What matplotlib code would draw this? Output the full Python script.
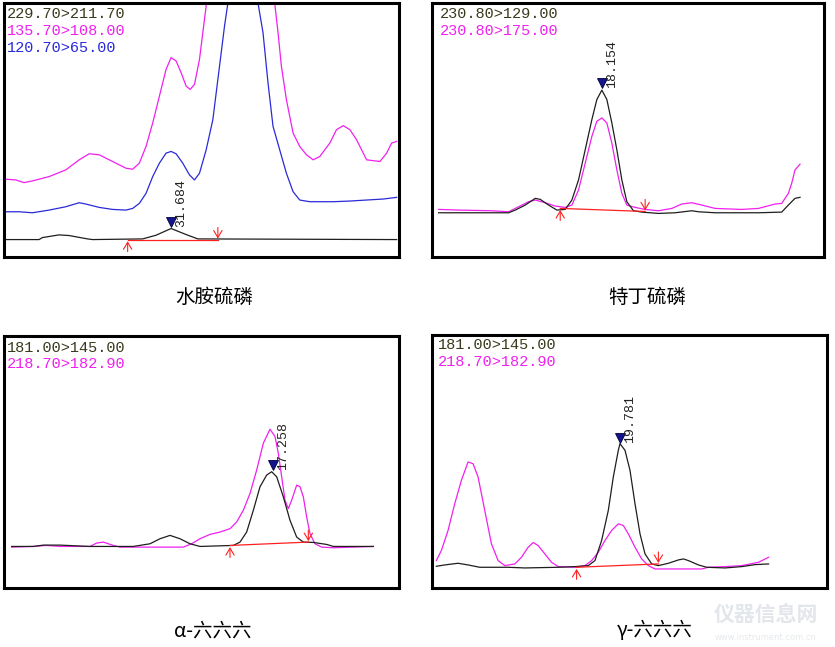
import numpy as np
import matplotlib
matplotlib.use("Agg")
import matplotlib.pyplot as plt

# ---------------- data (retention time in arbitrary scan units, abundance in arbitrary units) -------------
# Panel 1: 水胺硫磷
p1_black_t = [22, 120, 130, 180, 210, 265, 280, 430, 470, 515, 560, 595, 1190]
p1_black_a = [52, 52, 58, 66, 64, 54, 52, 54, 65, 85, 67, 54, 52]
p1_mag_t = [22, 50, 75, 100, 150, 200, 240, 270, 300, 330, 360, 380, 400, 420, 440, 460, 480, 500, 515, 530,
            545, 560, 572, 585, 600, 610, 620, 640, 680, 720, 760, 800, 825, 835, 845, 860, 880, 900, 920, 940,
            960, 990, 1010, 1030, 1050, 1070, 1090, 1100, 1140, 1160, 1175, 1190]
p1_mag_a = [232, 230, 222, 227, 240, 260, 290, 308, 305, 290, 275, 265, 262, 280, 330, 400, 480, 560, 595, 585,
            550, 510, 500, 515, 590, 670, 750, 900, 1100, 1150, 1100, 950, 758, 670, 570, 470, 370, 330, 305, 290,
            300, 340, 380, 392, 380, 350, 310, 290, 285, 310, 340, 345]
p1_blue_t = [22, 60, 100, 150, 200, 240, 260, 300, 340, 380, 400, 420, 440, 460, 480, 500, 515, 530, 550, 570,
             585, 600, 620, 640, 660, 675, 685, 700, 730, 760, 775, 790, 805, 820, 840, 860, 880, 900, 930, 960,
             1000, 1050, 1100, 1150, 1190]
p1_blue_a = [135, 135, 132, 140, 150, 162, 158, 148, 142, 140, 145, 160, 190, 240, 280, 310, 315, 308, 280, 245,
             230, 250, 320, 410, 570, 690, 758, 950, 1050, 950, 758, 670, 520, 390, 320, 250, 195, 170, 165, 165,
             165, 167, 170, 173, 178]
p1_base_t = [385, 655]
p1_base_a = [52, 52]
p1_peak = (515, 105, "31.684")

# Panel 2: 特丁硫磷
p2_black_t = [40, 100, 250, 270, 300, 330, 345, 370, 395, 420, 440, 460, 480, 500, 515, 530, 545, 560, 575, 590,
              605, 625, 650, 700, 750, 800, 820, 870, 1000, 1070, 1090, 1110, 1125]
p2_black_a = [132, 132, 132, 140, 155, 175, 172, 155, 140, 142, 170, 230, 320, 410, 470, 498, 470, 400, 320, 230,
              165, 138, 134, 130, 132, 138, 135, 132, 132, 134, 155, 175, 178]
p2_mag_t = [40, 100, 200, 250, 280, 310, 330, 360, 390, 420, 440, 460, 480, 500, 515, 530, 545, 560, 575, 590,
            605, 630, 660, 700, 740, 770, 800, 830, 870, 950, 1000, 1050, 1070, 1090, 1100, 1110, 1125]
p2_mag_a = [142, 140, 138, 135, 150, 165, 170, 162, 152, 148, 155, 200, 280, 360, 405, 415, 400, 340, 260, 190,
            155, 148, 142, 138, 145, 158, 162, 155, 145, 142, 145, 158, 160, 190, 220, 260, 277]
p2_base_t = [405, 600, 660]
p2_base_a = [145, 138, 136]
p2_peak = (530, 520, "18.154")

# Panel 3: α-六六六
p3_black_t = [35, 100, 130, 180, 270, 400, 450, 480, 510, 540, 570, 600, 700, 720, 740, 760, 780, 800, 815, 830,
              850, 870, 890, 910, 940, 980, 1000, 1120]
p3_black_a = [124, 124, 128, 128, 124, 124, 132, 147, 157, 147, 132, 124, 127, 137, 167, 232, 302, 337, 347, 332,
              272, 202, 152, 137, 136, 130, 124, 124]
p3_mag_t = [35, 100, 140, 180, 270, 290, 310, 340, 360, 450, 550, 575, 600, 630, 660, 690, 710, 730, 750, 770,
            790, 810, 825, 835, 845, 855, 865, 875, 890, 900, 910, 920, 930, 945, 965, 1000, 1120]
p3_mag_a = [122, 124, 127, 124, 124, 134, 137, 127, 122, 122, 122, 132, 147, 160, 167, 177, 197, 232, 282, 352,
            432, 474, 452, 402, 332, 262, 237, 262, 307, 302, 272, 212, 162, 132, 122, 120, 124]
p3_base_t = [690, 925]
p3_base_a = [127, 137]
p3_peak = (818, 367, "17.258")

# Panel 4: γ-六六六
p4_black_t = [35, 60, 100, 130, 165, 250, 300, 400, 450, 490, 510, 530, 550, 565, 580, 585, 600, 615, 630, 645,
              660, 680, 700, 730, 760, 775, 790, 820, 845, 900, 950, 990, 1030]
p4_black_a = [65, 69, 74, 69, 62, 62, 60, 62, 64, 67, 82, 142, 232, 332, 412, 432, 412, 352, 252, 162,
              102, 72, 67, 74, 84, 87, 82, 69, 62, 60, 64, 70, 72]
p4_mag_t = [35, 50, 70, 90, 110, 130, 145, 160, 180, 200, 220, 240, 270, 290, 310, 325, 340, 360, 380, 400,
            450, 480, 500, 520, 540, 560, 580, 595, 610, 630, 650, 670, 690, 750, 830, 850, 900, 950, 1000, 1030]
p4_mag_a = [82, 112, 172, 252, 322, 377, 372, 332, 232, 132, 82, 67, 72, 92, 122, 136, 127, 102, 77, 64,
            62, 67, 82, 107, 142, 172, 192, 187, 162, 122, 87, 67, 57, 57, 57, 62, 64, 67, 77, 92]
p4_base_t = [455, 700]
p4_base_a = [62, 72]
p4_peak = (585, 450, "19.781")

titles = ["水胺硫磷", "特丁硫磷", "α-六六六", "γ-六六六"]
channel_labels = [
    ["229.70>211.70", "135.70>108.00", "120.70>65.00"],
    ["230.80>129.00", "230.80>175.00"],
    ["181.00>145.00", "218.70>182.90"],
    ["181.00>145.00", "218.70>182.90"],
]

# ---------------- style ----------------
BLACK = "#1e1e1e"
MAG = "#f020f0"
BLUE = "#2a2ad8"
RED = "#ff2020"
LABEL0 = "#3a3a1c"

W, H = 835, 647
fig = plt.figure(figsize=(W / 100, H / 100), dpi=100)
fig.patch.set_facecolor("white")

# panel boxes in pixels: (left, top, right, bottom), and data extents (xmin, xmax, ymax)
boxes = [(4, 3, 399, 257), (432, 3, 824, 257), (4, 336, 399, 588), (432, 335, 827, 588)]
extents = [(15, 1197, 758), (20, 1197, 758), (12, 1197, 752), (22, 1205, 757)]

panels = [
    dict(traces=[(p1_black_t, p1_black_a, BLACK), (p1_blue_t, p1_blue_a, BLUE), (p1_mag_t, p1_mag_a, MAG)],
         base=(p1_base_t, p1_base_a), peak=p1_peak, label_x=25, label_y=[725, 675, 625],
         colors=[LABEL0, MAG, BLUE]),
    dict(traces=[(p2_mag_t, p2_mag_a, MAG), (p2_black_t, p2_black_a, BLACK)],
         base=(p2_base_t, p2_base_a), peak=p2_peak, label_x=45, label_y=[725, 675],
         colors=[LABEL0, MAG]),
    dict(traces=[(p3_mag_t, p3_mag_a, MAG), (p3_black_t, p3_black_a, BLACK)],
         base=(p3_base_t, p3_base_a), peak=p3_peak, label_x=22, label_y=[717, 667],
         colors=[LABEL0, MAG]),
    dict(traces=[(p4_mag_t, p4_mag_a, MAG), (p4_black_t, p4_black_a, BLACK)],
         base=(p4_base_t, p4_base_a), peak=p4_peak, label_x=40, label_y=[727, 677],
         colors=[LABEL0, MAG]),
]

for i, (box, ext, pan) in enumerate(zip(boxes, extents, panels)):
    l, t, r, b = box
    ax = fig.add_axes([l / W, 1 - b / H, (r - l) / W, (b - t) / H])
    ax.set_xlim(ext[0], ext[1])
    ax.set_ylim(0, ext[2])
    ax.set_xticks([])
    ax.set_yticks([])
    for s in ax.spines.values():
        s.set_linewidth(2.2)
        s.set_color("black")
    for tt, aa, c in pan["traces"]:
        ax.plot(tt, aa, color=c, lw=0.9, solid_joinstyle="round")
    # integration baseline
    bt, ba = pan["base"]
    ax.plot(bt, ba, color=RED, lw=0.9)
    # start / end arrows
    ax.annotate("", xy=(bt[0], ba[0] - 5), xytext=(bt[0], ba[0] - 36),
                arrowprops=dict(arrowstyle="->,head_length=0.5,head_width=0.3", color=RED, lw=0.8,
                                shrinkA=0, shrinkB=0))
    ax.annotate("", xy=(bt[-1], ba[-1] + 3), xytext=(bt[-1], ba[-1] + 36),
                arrowprops=dict(arrowstyle="->,head_length=0.5,head_width=0.3", color=RED, lw=0.8,
                                shrinkA=0, shrinkB=0))
    # peak marker and retention time label
    px, py, ptxt = pan["peak"]
    ax.plot([px], [py], marker="v", ms=7.5, color="#14148c", mec="#000040", mew=0.6)
    ax.text(px + 30, py - 15, ptxt, rotation=90, ha="center", va="bottom",
            fontsize=9.5, family="Liberation Mono", color="#222222")
    # channel labels
    for txt, yy, c in zip(channel_labels[i], pan["label_y"], pan["colors"]):
        ax.text(pan["label_x"], yy, txt, ha="left", va="center", fontsize=11,
                family="Liberation Mono", color=c)

# titles below panels
title_pos = [(214, 297), (647, 297), (213, 631), (655, 631)]
for txt, (x, y) in zip(titles, title_pos):
    fig.text(x / W, 1 - y / H, txt, ha="center", va="center", fontsize=14,
             family=["Noto Sans CJK SC", "DejaVu Sans"], color="black")

# faint watermark
fig.text(766 / W, 1 - 615 / H, "仪器信息网", ha="center", va="center", fontsize=15,
         family=["Noto Sans CJK SC", "DejaVu Sans"], color="#e3e6ea", fontweight="bold", zorder=0)
fig.text(766 / W, 1 - 637 / H, "www.instrument.com.cn", ha="center", va="center", fontsize=6,
         family="DejaVu Sans", color="#e6e9ec", zorder=0)

fig.savefig("out.png", dpi=100, facecolor="white")
